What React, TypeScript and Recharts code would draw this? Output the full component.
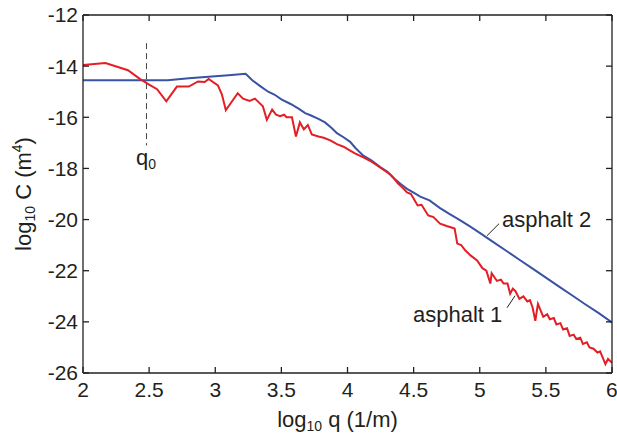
import React from "react";
import {
  LineChart,
  Line,
  XAxis,
  YAxis,
  ReferenceLine,
  ReferenceDot,
} from "recharts";

// asphalt 2 (blue): log10 q, log10 C
const blueX = [
  2.0, 2.64, 2.8, 3.0, 3.1, 3.23, 3.28, 3.34, 3.4, 3.45, 3.5, 3.57, 3.63, 3.68,
  3.72, 3.78, 3.83, 3.88, 3.92, 3.97, 4.02, 4.06, 4.12, 4.18, 4.25, 4.3, 4.35,
  4.4, 4.45, 4.5, 4.55, 4.62, 4.7, 4.77, 4.85, 4.92, 5.0, 5.1, 5.2, 5.3, 5.4,
  5.5, 5.6, 5.7, 5.8, 5.9, 6.0,
];
const blueY = [
  -14.55, -14.55, -14.47, -14.4, -14.36, -14.3, -14.55, -14.78, -15.0, -15.12,
  -15.3, -15.48, -15.66, -15.84, -15.92, -16.06, -16.2, -16.42, -16.62, -16.78,
  -16.96, -17.2, -17.5, -17.68, -17.96, -18.12, -18.38, -18.6, -18.8, -18.95,
  -19.1, -19.25, -19.55, -19.78, -20.02, -20.25, -20.52, -20.87, -21.22, -21.57,
  -21.92, -22.27, -22.62, -22.97, -23.32, -23.66, -24.02,
];

// asphalt 1 (red)
const redX = [
  2.0, 2.17, 2.34, 2.43, 2.5, 2.56, 2.63, 2.71, 2.8, 2.87, 2.92, 2.95, 3.02,
  3.05, 3.08, 3.11, 3.17, 3.21, 3.26, 3.3, 3.36, 3.39, 3.43, 3.46, 3.49, 3.52,
  3.54, 3.58, 3.61, 3.64, 3.67, 3.7, 3.73, 3.78, 3.82, 3.87, 3.92, 3.97, 4.02,
  4.06, 4.12, 4.17, 4.23, 4.28, 4.32, 4.35, 4.38, 4.41, 4.45, 4.48, 4.53, 4.56,
  4.61, 4.65, 4.7, 4.75, 4.78, 4.81, 4.83, 4.86, 4.89, 4.93, 4.98, 5.02, 5.05,
  5.08, 5.09, 5.13, 5.16, 5.18, 5.21, 5.23, 5.25, 5.27, 5.3, 5.33, 5.36, 5.38,
  5.4, 5.42, 5.44, 5.46, 5.48, 5.51, 5.53, 5.56, 5.58, 5.61, 5.63, 5.66, 5.68,
  5.71, 5.73, 5.76, 5.78, 5.81, 5.83, 5.86, 5.89, 5.91, 5.93, 5.95, 5.97, 6.0,
];
const redY = [
  -13.96, -13.88, -14.16, -14.5, -14.72, -14.9, -15.38, -14.8, -14.8, -14.6,
  -14.62, -14.5, -14.75, -15.1, -15.72, -15.5, -15.06, -15.27, -15.36, -15.27,
  -15.57, -16.1, -15.7, -15.9, -15.96, -15.9, -16.0, -16.0, -16.75, -16.2,
  -16.47, -16.3, -16.67, -16.75, -16.8, -16.9, -17.05, -17.15, -17.3, -17.42,
  -17.57, -17.7, -17.9, -18.08, -18.22, -18.38, -18.58, -18.72, -18.94, -19.0,
  -19.45, -19.42, -19.84, -19.9, -20.16, -20.25, -20.3, -20.35, -20.94, -21.0,
  -21.2, -21.4, -21.6, -21.9, -22.0, -22.5, -22.1, -22.4, -22.35, -22.5, -22.5,
  -22.9, -22.7, -22.8, -23.1, -23.0, -23.2, -23.15, -23.45, -23.96, -23.3,
  -23.55, -23.8, -23.7, -23.9, -23.85, -24.1, -24.05, -24.3, -24.25, -24.55,
  -24.5, -24.67, -24.62, -24.86, -24.8, -25.0, -25.05, -25.2, -25.15, -25.4,
  -25.65, -25.45, -25.6,
];

const xTicks = [2, 2.5, 3, 3.5, 4, 4.5, 5, 5.5, 6];
const yTicks = [-26, -24, -22, -20, -18, -16, -14, -12];

// q0 marker and leader lines (data coordinates)
const q0X = 2.48;
const q0Span = [-13.1, -17.1];
const lead2 = [
  { x: 5.055, y: -20.63 },
  { x: 5.146, y: -20.16 },
];
const lead1 = [
  { x: 5.206, y: -23.45 },
  { x: 5.267, y: -22.98 },
];

const blueData = blueX.map((x, i) => ({ x, y: blueY[i] }));
const redData = redX.map((x, i) => ({ x, y: redY[i] }));

const FONT = "'Liberation Sans', Arial, sans-serif";
const INK = "#231f20";

const anno = (text: string, sub?: string) => ({
  // eslint-disable-next-line @typescript-eslint/no-explicit-any
  content: (p: any) => (
    <text
      x={p.viewBox.x}
      y={p.viewBox.y}
      fontFamily={FONT}
      fontSize={22}
      fill={INK}
    >
      {text}
      {sub && (
        <tspan fontSize={14} dy={4}>
          {sub}
        </tspan>
      )}
    </text>
  ),
});

export default function App() {
  return (
    <div style={{ position: "fixed", left: 0, top: 0, background: "#fff" }}>
      <LineChart
        width={617}
        height={439}
        margin={{ top: 12, right: 2, bottom: 36, left: 23 }}
      >
        <XAxis
          dataKey="x"
          type="number"
          domain={[2, 6]}
          ticks={xTicks}
          height={30}
          allowDataOverflow
          tickSize={-6}
          tickMargin={15}
          stroke={INK}
          strokeWidth={1.3}
          tick={{ fill: INK, fontSize: 21, fontFamily: FONT }}
          label={{
            // eslint-disable-next-line @typescript-eslint/no-explicit-any
            content: (p: any) => (
              <text
                x={p.viewBox.x + p.viewBox.width / 2 - 10}
                y={p.viewBox.y + 54}
                textAnchor="middle"
                fontFamily={FONT}
                fontSize={22}
                fill={INK}
              >
                log
                <tspan fontSize={14} dy={4}>
                  10
                </tspan>
                <tspan dy={-4}> q (1/m)</tspan>
              </text>
            ),
          }}
        />
        <XAxis
          xAxisId="top"
          orientation="top"
          dataKey="x"
          type="number"
          domain={[2, 6]}
          ticks={xTicks}
          height={3}
          allowDataOverflow
          tickSize={-6}
          stroke={INK}
          strokeWidth={1.3}
          tick={{ fill: "none", fontSize: 1 }}
          tickFormatter={() => ""}
        />
        <YAxis
          type="number"
          domain={[-26, -12]}
          ticks={yTicks}
          width={60}
          allowDataOverflow
          tickSize={-6}
          tickMargin={11}
          stroke={INK}
          strokeWidth={1.3}
          tick={{ fill: INK, fontSize: 21, fontFamily: FONT }}
          label={{
            // eslint-disable-next-line @typescript-eslint/no-explicit-any
            content: (p: any) => {
              const cx = p.viewBox.x + 8;
              const cy = p.viewBox.y + p.viewBox.height / 2;
              return (
                <text
                  transform={`translate(${cx},${cy}) rotate(-90)`}
                  textAnchor="middle"
                  fontFamily={FONT}
                  fontSize={22}
                  fill={INK}
                >
                  log
                  <tspan fontSize={14} dy={4}>
                    10
                  </tspan>
                  <tspan dy={-4}> C (m</tspan>
                  <tspan fontSize={14} dy={-9}>
                    4
                  </tspan>
                  <tspan dy={9}>)</tspan>
                </text>
              );
            },
          }}
        />
        <YAxis
          yAxisId="right"
          orientation="right"
          type="number"
          domain={[-26, -12]}
          ticks={yTicks}
          width={3}
          allowDataOverflow
          tickSize={-6}
          stroke={INK}
          strokeWidth={1.3}
          tick={{ fill: "none", fontSize: 1 }}
          tickFormatter={() => ""}
        />
        <ReferenceLine
          segment={[
            { x: q0X, y: q0Span[0] },
            { x: q0X, y: q0Span[1] },
          ]}
          stroke="#444"
          strokeWidth={1}
          strokeDasharray="6 4"
        />
        <ReferenceLine segment={lead2} stroke={INK} strokeWidth={1} />
        <ReferenceLine segment={lead1} stroke={INK} strokeWidth={1} />
        {/* invisible series so the mirrored top/right axes get drawn */}
        <Line
          data={blueData}
          dataKey="y"
          xAxisId="top"
          yAxisId="right"
          stroke="none"
          dot={false}
          legendType="none"
          isAnimationActive={false}
        />
        <Line
          data={blueData}
          dataKey="y"
          stroke="#3953a4"
          strokeWidth={2}
          dot={false}
          isAnimationActive={false}
        />
        <Line
          data={redData}
          dataKey="y"
          stroke="#e31e24"
          strokeWidth={2}
          dot={false}
          isAnimationActive={false}
        />
        <ReferenceDot x={2.4} y={-17.87} r={0} stroke="none" label={anno("q", "0")} />
        <ReferenceDot x={5.168} y={-20.29} r={0} stroke="none" label={anno("asphalt 2")} />
        <ReferenceDot x={4.495} y={-24.0} r={0} stroke="none" label={anno("asphalt 1")} />
      </LineChart>
    </div>
  );
}
